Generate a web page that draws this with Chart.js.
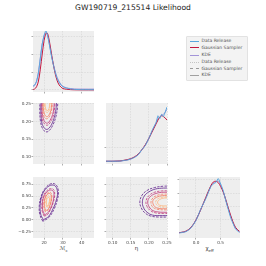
<!DOCTYPE html>
<html lang="en">
<head>
<meta charset="UTF-8">
<title>GW190719_215514 Likelihood</title>
<script src="https://cdn.jsdelivr.net/npm/chart.js"></script>
<style>
  body { margin: 0; width: 266px; height: 266px; background: #fff; position: relative; overflow: hidden;
         font-family: 'DejaVu Sans', sans-serif; }
  canvas { position: absolute; }
  .title { position: absolute; left: 0; top: 3px; width: 266px; text-align: center; font-size: 7.6px; color: #222; }
  .xlabel { position: absolute; top: 245px; width: 61px; text-align: center; font-size: 5.5px; color: #333; }
  .xlabel sub { font-size: 3.8px; }
  .legend { position: absolute; left: 186px; top: 36px; width: 60px; height: 43px; background: #f3f3f3;
            border: 0.5px solid #e2e2e2; border-radius: 1px; }
  .legend .row { position: absolute; left: 0; width: 60px; height: 6px; }
  .legend .swatch { position: absolute; left: 2.5px; top: 2.5px; width: 9.5px; height: 0; }
  .legend .txt { position: absolute; left: 14.5px; top: 0; font-size: 4.5px; line-height: 6px; color: #555; white-space: nowrap; }
</style>
</head>
<body>
<div class="title">GW190719_215514 Likelihood</div>
<div class="legend" id="legend"></div>
<div class="xlabel" style="left:33px">ℳ<sub>c</sub></div>
<div class="xlabel" style="left:106px">η</div>
<div class="xlabel" style="left:179px">χ<sub>eff</sub></div>

<script>
// --- legend ---
const legendLabels = ['Data Release', 'Gaussian Sampler', 'KDE', 'Data Release', 'Gaussian Sampler', 'KDE'];
const legendColors = ['#5aa6de', '#c4173f', '#a394d8', '#c4c4c4', '#9a9a9a', '#a0a0a0'];
const legendStyles = ['solid', 'solid', 'solid', 'dotted', 'dashed', 'solid'];

// --- 1D chirp mass ---
const mcX = [14, 15, 16, 17, 18, 19, 20, 20.5, 21, 21.5, 22, 23, 24, 25, 26, 27, 28, 29, 30, 32, 34, 36, 40, 47];
const mcRelease = [0.011, 0.014, 0.024, 0.048, 0.088, 0.128, 0.152, 0.16, 0.165, 0.157, 0.148, 0.12, 0.092, 0.068, 0.047, 0.031, 0.021, 0.014, 0.009, 0.005, 0.003, 0.0015, 0.001, 0.0008];
const mcGauss = [0.001, 0.003, 0.009, 0.025, 0.058, 0.1, 0.138, 0.15, 0.157, 0.159, 0.155, 0.13, 0.098, 0.068, 0.043, 0.025, 0.014, 0.008, 0.004, 0.002, 0.001, 0.0005, 0.0003, 0.0002];
const mcKde = [0.007, 0.013, 0.025, 0.05, 0.09, 0.128, 0.151, 0.157, 0.16, 0.156, 0.148, 0.122, 0.094, 0.07, 0.05, 0.034, 0.023, 0.015, 0.01, 0.006, 0.004, 0.003, 0.0025, 0.0025];

// --- 1D eta ---
const etaX = [0.08, 0.10, 0.12, 0.13, 0.14, 0.15, 0.16, 0.17, 0.18, 0.19, 0.20, 0.21, 0.22, 0.225, 0.23, 0.235, 0.24, 0.245, 0.25];
const etaRelease = [0.02, 0.02, 0.03, 0.07, 0.1, 0.17, 0.28, 0.45, 0.8, 1.1, 1.6, 2.2, 2.7, 3.15, 2.95, 3.25, 3.1, 3.4, 3.75];
const etaGauss = [0.02, 0.02, 0.04, 0.08, 0.13, 0.2, 0.32, 0.5, 0.8, 1.15, 1.6, 2.1, 2.6, 2.85, 3.05, 3.15, 3.1, 3.0, 2.85];
const etaKde = [0.02, 0.02, 0.03, 0.06, 0.11, 0.18, 0.3, 0.47, 0.78, 1.12, 1.6, 2.15, 2.65, 2.95, 3.05, 3.2, 3.25, 3.4, 3.6];

// --- 1D chi_eff ---
const chiX = [-0.34, -0.3, -0.2, -0.1, 0.0, 0.1, 0.2, 0.3, 0.35, 0.4, 0.45, 0.5, 0.55, 0.6, 0.7, 0.8, 0.88];
const chiRelease = [0.01, 0.02, 0.06, 0.2, 0.48, 0.92, 1.3, 1.75, 1.85, 1.9, 2.05, 1.85, 1.6, 1.25, 0.6, 0.16, 0.03];
const chiGauss = [0.02, 0.03, 0.08, 0.22, 0.5, 0.9, 1.35, 1.78, 1.92, 1.95, 1.9, 1.75, 1.55, 1.28, 0.68, 0.22, 0.07];
const chiKde = [0.02, 0.03, 0.07, 0.21, 0.49, 0.91, 1.33, 1.76, 1.88, 1.93, 1.96, 1.8, 1.57, 1.26, 0.64, 0.19, 0.05];

// --- contour levels (outer to inner) ---
const levelColors = ['#5e1f8c', '#c0397a', '#f47a5e', '#fdb77f'];

// Mc vs eta (open at eta = 0.25)
const mcEtaDashed = [
  [[17.8,0.26],[17.7,0.23],[18.1,0.2],[19.2,0.18],[21,0.171],[22.8,0.175],[24.8,0.192],[26.3,0.215],[27.1,0.24],[27.3,0.26]],
  [[18.6,0.26],[18.5,0.23],[19.1,0.205],[20.3,0.193],[21.8,0.19],[23.3,0.198],[24.8,0.215],[25.6,0.24],[25.8,0.26]],
  [[19.3,0.26],[19.3,0.235],[19.9,0.215],[21.2,0.208],[22.5,0.212],[23.8,0.228],[24.3,0.245],[24.4,0.26]],
  [[20.2,0.26],[20.3,0.24],[21,0.228],[22,0.226],[22.9,0.236],[23.2,0.25],[23.3,0.26]]
];
const mcEtaSolid = [
  [[18.4,0.26],[18.3,0.23],[18.7,0.2],[19.7,0.185],[21.2,0.178],[22.7,0.182],[24.4,0.197],[25.7,0.218],[26.4,0.24],[26.6,0.26]],
  [[19,0.26],[18.9,0.235],[19.5,0.21],[20.6,0.198],[21.9,0.196],[23.2,0.204],[24.5,0.22],[25.2,0.24],[25.4,0.26]],
  [[19.6,0.26],[19.6,0.238],[20.3,0.22],[21.4,0.214],[22.5,0.218],[23.6,0.232],[24,0.248],[24.1,0.26]],
  [[20.5,0.26],[20.6,0.242],[21.3,0.232],[22.1,0.232],[22.8,0.242],[23,0.26]]
];

// Mc vs chi_eff (closed)
const mcChiDashed = [
  [[19.3,-0.03],[17.8,0.1],[17.4,0.28],[18.3,0.48],[20.3,0.65],[23.5,0.76],[26.3,0.74],[27.6,0.6],[27,0.42],[25.2,0.22],[22.5,0.05],[19.3,-0.03]],
  [[20,0.08],[19,0.18],[18.8,0.33],[19.6,0.5],[21.3,0.61],[23.5,0.66],[25.2,0.63],[25.6,0.52],[24.8,0.36],[23.2,0.2],[21.5,0.1],[20,0.08]],
  [[20.6,0.17],[19.9,0.26],[19.9,0.38],[20.7,0.5],[22,0.57],[23.4,0.58],[24.1,0.52],[23.9,0.4],[23,0.27],[21.8,0.19],[20.6,0.17]],
  [[21.3,0.27],[20.9,0.34],[21.1,0.43],[21.9,0.5],[22.8,0.5],[23.1,0.44],[22.7,0.34],[22,0.28],[21.3,0.27]]
];
const mcChiSolid = [
  [[19.6,0],[18.2,0.12],[17.9,0.3],[18.7,0.49],[20.6,0.64],[23.5,0.73],[26,0.71],[27.1,0.58],[26.5,0.42],[24.8,0.24],[22.3,0.07],[19.6,0]],
  [[20.2,0.11],[19.3,0.2],[19.1,0.34],[19.9,0.49],[21.5,0.59],[23.4,0.63],[24.9,0.6],[25.2,0.5],[24.5,0.35],[23,0.21],[21.5,0.13],[20.2,0.11]],
  [[20.8,0.2],[20.2,0.28],[20.2,0.39],[20.9,0.49],[22.1,0.55],[23.3,0.55],[23.8,0.5],[23.6,0.39],[22.8,0.28],[21.8,0.21],[20.8,0.2]],
  [[21.5,0.3],[21.2,0.36],[21.4,0.43],[22,0.47],[22.7,0.47],[22.9,0.42],[22.5,0.34],[22,0.3],[21.5,0.3]]
];

// eta vs chi_eff (open at eta = 0.25)
const etaChiDashed = [
  [[0.26,0.71],[0.24,0.71],[0.215,0.68],[0.195,0.62],[0.181,0.52],[0.175,0.38],[0.179,0.25],[0.19,0.14],[0.205,0.08],[0.225,0.06],[0.26,0.06]],
  [[0.26,0.61],[0.235,0.61],[0.215,0.58],[0.2,0.51],[0.192,0.4],[0.195,0.28],[0.205,0.19],[0.22,0.145],[0.24,0.135],[0.26,0.135]],
  [[0.26,0.54],[0.235,0.54],[0.218,0.5],[0.208,0.43],[0.206,0.34],[0.212,0.26],[0.225,0.22],[0.245,0.21],[0.26,0.21]],
  [[0.26,0.48],[0.24,0.48],[0.226,0.45],[0.219,0.39],[0.221,0.32],[0.23,0.28],[0.245,0.27],[0.26,0.27]]
];
const etaChiSolid = [
  [[0.26,0.67],[0.24,0.67],[0.218,0.65],[0.2,0.59],[0.187,0.5],[0.182,0.38],[0.185,0.26],[0.195,0.16],[0.21,0.1],[0.23,0.09],[0.26,0.09]],
  [[0.26,0.58],[0.235,0.58],[0.217,0.55],[0.204,0.49],[0.197,0.4],[0.199,0.3],[0.208,0.21],[0.222,0.17],[0.24,0.16],[0.26,0.16]],
  [[0.26,0.51],[0.237,0.51],[0.222,0.48],[0.212,0.42],[0.211,0.35],[0.216,0.28],[0.228,0.24],[0.245,0.235],[0.26,0.235]],
  [[0.26,0.46],[0.242,0.46],[0.23,0.43],[0.224,0.38],[0.226,0.33],[0.234,0.3],[0.248,0.295],[0.26,0.295]]
];

// --- ticks ---
const mcTicks = [20, 30, 40], mcTickLabels = ['20', '30', '40'];
const etaTicks = [0.10, 0.15, 0.20, 0.25], etaTickLabels = ['0.10', '0.15', '0.20', '0.25'];
const chiTicks = [-0.25, 0, 0.25, 0.5, 0.75], chiTickLabels = ['\u22120.25', '0.00', '0.25', '0.50', '0.75'];
const chiXTicks = [0, 0.5], chiXTickLabels = ['0.0', '0.5'];
const mcDensTicks = [0, 0.05, 0.10, 0.15];
const etaDensTicks = [1];
const chiDensTicks = [0.5, 1.0, 1.5, 2.0];

// ---------------------------------------------------------------
const COLS = [33, 106, 179], ROWS = [31, 103, 177], SIZE = 61;
const PAD_L = 22, PAD_T = 4, PAD_R = 8, PAD_B = 10;

Chart.defaults.font.family = "'DejaVu Sans', sans-serif";

// fill the panel background
const panelBg = {
  id: 'panelBg',
  beforeDraw(chart) {
    const a = chart.chartArea, ctx = chart.ctx;
    ctx.save();
    ctx.fillStyle = '#eeeeee';
    ctx.fillRect(a.left, a.top, a.right - a.left, a.bottom - a.top);
    ctx.restore();
  }
};

function axis(min, max, ticks, labels, isX) {
  return {
    type: 'linear', min, max,
    afterBuildTicks: s => { s.ticks = ticks.map(v => ({ value: v })); },
    afterFit: s => {
      if (isX) s.height = PAD_B; else s.width = PAD_L;
      s.paddingLeft = s.paddingRight = s.paddingTop = s.paddingBottom = 0;
    },
    grid: { color: '#d9d9d9', lineWidth: 0.8, tickColor: '#777', tickLength: 1.5, tickWidth: 0.6 },
    border: { display: false, dash: [1.5, 1.2] },
    ticks: {
      display: !!labels, padding: 0.5, color: '#444', font: { size: 4.2 },
      maxRotation: 0, autoSkip: false,
      callback: (v, i) => labels ? labels[i] : ''
    }
  };
}

function pts(xs, ys) { return xs.map((x, i) => ({ x, y: ys[i] })); }

function curve(xs, ys, color, tension) {
  return { data: pts(xs, ys), borderColor: color, borderWidth: 1, pointRadius: 0, showLine: true, tension, fill: false };
}

function rings(list, dash) {
  return list.map((r, i) => ({
    data: r.map(p => ({ x: p[0], y: p[1] })),
    borderColor: levelColors[i], borderWidth: 0.8, borderDash: dash,
    pointRadius: 0, showLine: true, tension: 0.4, fill: false
  }));
}

function panel(col, row, datasets, xAxis, yAxis) {
  const c = document.createElement('canvas');
  c.width = PAD_L + SIZE + PAD_R;
  c.height = PAD_T + SIZE + PAD_B;
  c.style.left = (COLS[col] - PAD_L) + 'px';
  c.style.top = (ROWS[row] - PAD_T) + 'px';
  document.body.appendChild(c);
  new Chart(c, {
    type: 'scatter',
    data: { datasets },
    options: {
      responsive: false, animation: false, devicePixelRatio: 1,
      layout: { padding: { left: 0, top: PAD_T, right: PAD_R, bottom: 0 } },
      plugins: { legend: { display: false }, tooltip: { enabled: false } },
      scales: { x: xAxis, y: yAxis }
    },
    plugins: [panelBg]
  });
}

const MC = [14.1, 46.5], ETA_X = [0.0815, 0.25], ETA_Y = [0.080, 0.2528], CHI_Y = [-0.383, 0.904], CHI_X = [-0.344, 0.891];

// row 0: Mc marginal
panel(0, 0, [
  curve(mcX, mcRelease, '#5aa6de', 0.2),
  curve(mcX, mcGauss, '#c4173f', 0.35),
  curve(mcX, mcKde, '#a394d8', 0.35)
], axis(MC[0], MC[1], mcTicks, null, true), axis(-0.0056, 0.164, mcDensTicks, null, false));

// row 1: Mc-eta, eta marginal
panel(0, 1, [...rings(mcEtaDashed, [2.5, 1.2]), ...rings(mcEtaSolid, [])],
  axis(MC[0], MC[1], mcTicks, null, true), axis(ETA_Y[0], ETA_Y[1], etaTicks, etaTickLabels, false));
panel(1, 1, [
  curve(etaX, etaRelease, '#5aa6de', 0.1),
  curve(etaX, etaGauss, '#c4173f', 0.35),
  curve(etaX, etaKde, '#a394d8', 0.35)
], axis(ETA_X[0], ETA_X[1], etaTicks, null, true), axis(-0.17, 4.03, etaDensTicks, null, false));

// row 2: Mc-chi, eta-chi, chi marginal
panel(0, 2, [...rings(mcChiDashed, [2.5, 1.2]), ...rings(mcChiSolid, [])],
  axis(MC[0], MC[1], mcTicks, mcTickLabels, true), axis(CHI_Y[0], CHI_Y[1], chiTicks, chiTickLabels, false));
panel(1, 2, [...rings(etaChiDashed, [2.5, 1.2]), ...rings(etaChiSolid, [])],
  axis(ETA_X[0], ETA_X[1], etaTicks, etaTickLabels, true), axis(CHI_Y[0], CHI_Y[1], chiTicks, null, false));
panel(2, 2, [
  curve(chiX, chiRelease, '#5aa6de', 0.15),
  curve(chiX, chiGauss, '#c4173f', 0.35),
  curve(chiX, chiKde, '#a394d8', 0.35)
], axis(CHI_X[0], CHI_X[1], chiXTicks, chiXTickLabels, true), axis(-0.18, 2.11, chiDensTicks, null, false));

// legend
const legendRowTops = [1, 7.7, 15, 22, 28.7, 35.3];
const leg = document.getElementById('legend');
legendLabels.forEach((lab, i) => {
  const row = document.createElement('div');
  row.className = 'row';
  row.style.top = legendRowTops[i] + 'px';
  row.innerHTML = '<div class="swatch" style="border-top:1px ' + legendStyles[i] + ' ' + legendColors[i] + '"></div>' +
    '<div class="txt">' + lab + '</div>';
  leg.appendChild(row);
});
</script>
</body>
</html>
